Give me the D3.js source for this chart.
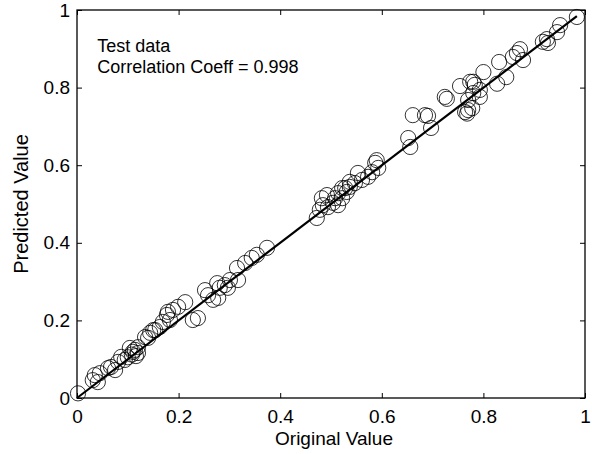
<!DOCTYPE html>
<html>
<head>
<meta charset="utf-8">
<script src="https://cdn.jsdelivr.net/npm/d3@7"></script>
<style>
  body { margin: 0; background: #fff; }
  text { font-family: "Liberation Sans", Arial, sans-serif; fill: #000; }
</style>
</head>
<body>
<div id="chart-container"></div>
<script>
// Original vs predicted values
const originalValues = [
    0.002, 0.031, 0.041, 0.035, 0.045, 0.061, 0.067, 0.075, 0.081, 0.087,
    0.094, 0.100, 0.104, 0.108, 0.110, 0.114, 0.116, 0.120, 0.120, 0.140,
    0.150, 0.134, 0.144, 0.154, 0.163, 0.169, 0.183, 0.177, 0.179, 0.189,
    0.199, 0.213, 0.228, 0.238, 0.252, 0.258, 0.268, 0.278, 0.276, 0.281,
    0.297, 0.291, 0.301, 0.317, 0.315, 0.331, 0.344, 0.354, 0.374,
    0.472, 0.478, 0.484, 0.494, 0.482, 0.492, 0.504, 0.508, 0.514, 0.522,
    0.514, 0.531, 0.522, 0.528, 0.537, 0.537, 0.547, 0.553, 0.561, 0.573,
    0.581, 0.593, 0.587, 0.590,
    0.656, 0.652, 0.697, 0.661, 0.685, 0.691, 0.724, 0.728, 0.764, 0.770,
    0.778, 0.768, 0.770, 0.754, 0.774, 0.783, 0.793, 0.780, 0.793, 0.780,
    0.800, 0.827, 0.845, 0.831, 0.858, 0.866, 0.872, 0.878, 0.917, 0.927,
    0.925, 0.945, 0.951, 0.984
];
const predictedValues = [
    0.012, 0.046, 0.041, 0.059, 0.064, 0.077, 0.080, 0.072, 0.093, 0.106,
    0.098, 0.105, 0.129, 0.112, 0.119, 0.124, 0.108, 0.116, 0.131, 0.155,
    0.175, 0.157, 0.168, 0.175, 0.183, 0.196, 0.201, 0.214, 0.222, 0.227,
    0.235, 0.247, 0.201, 0.206, 0.278, 0.265, 0.253, 0.258, 0.296, 0.284,
    0.284, 0.291, 0.304, 0.304, 0.335, 0.348, 0.361, 0.369, 0.387,
    0.464, 0.485, 0.497, 0.492, 0.515, 0.523, 0.503, 0.515, 0.497, 0.515,
    0.528, 0.531, 0.541, 0.541, 0.544, 0.557, 0.554, 0.580, 0.562, 0.570,
    0.582, 0.593, 0.606, 0.613,
    0.647, 0.670, 0.696, 0.729, 0.729, 0.727, 0.776, 0.771, 0.737, 0.742,
    0.747, 0.733, 0.768, 0.804, 0.815, 0.807, 0.776, 0.786, 0.794, 0.815,
    0.840, 0.810, 0.827, 0.866, 0.879, 0.889, 0.899, 0.871, 0.918, 0.915,
    0.925, 0.943, 0.961, 0.982
];
// fitted line end points
const fitX = [0, 0.984];
const fitY = [0, 0.984];

const tickValues = [0, 0.2, 0.4, 0.6, 0.8, 1];
const xLabel = "Original Value";
const yLabel = "Predicted Value";
const noteLines = ["Test data", "Correlation Coeff = 0.998"];

const width = 592;
const height = 454;
const margin = { top: 10, right: 7, bottom: 56, left: 77 };

const svg = d3.select("#chart-container").append("svg")
    .attr("width", width)
    .attr("height", height);

svg.append("rect")
    .attr("width", width)
    .attr("height", height)
    .attr("fill", "#fff");

const x = d3.scaleLinear().domain([0, 1]).range([margin.left, width - margin.right]);
const y = d3.scaleLinear().domain([0, 1]).range([height - margin.bottom, margin.top]);

const fmt = d => String(+d.toFixed(1));

// axes with inward ticks on all four sides
svg.append("g")
    .attr("transform", `translate(0,${y(0)})`)
    .call(d3.axisBottom(x).tickValues(tickValues).tickFormat(fmt).tickSizeInner(-5).tickSizeOuter(0).tickPadding(12))
    .call(g => g.select(".domain").remove())
    .call(g => g.selectAll("text").attr("font-size", 19).attr("font-family", "Liberation Sans, Arial, sans-serif"));

svg.append("g")
    .attr("transform", `translate(${x(0)},0)`)
    .call(d3.axisLeft(y).tickValues(tickValues).tickFormat(fmt).tickSizeInner(-5).tickSizeOuter(0).tickPadding(7))
    .call(g => g.select(".domain").remove())
    .call(g => g.selectAll("text").attr("font-size", 19).attr("font-family", "Liberation Sans, Arial, sans-serif"));

svg.append("g")
    .attr("transform", `translate(0,${y(1)})`)
    .call(d3.axisTop(x).tickValues(tickValues).tickFormat("").tickSizeInner(-5).tickSizeOuter(0))
    .call(g => g.select(".domain").remove());

svg.append("g")
    .attr("transform", `translate(${x(1)},0)`)
    .call(d3.axisRight(y).tickValues(tickValues).tickFormat("").tickSizeInner(-5).tickSizeOuter(0))
    .call(g => g.select(".domain").remove());

svg.selectAll(".tick line").attr("stroke", "#000").attr("stroke-width", 1);

// box
svg.append("rect")
    .attr("x", x(0))
    .attr("y", y(1))
    .attr("width", x(1) - x(0))
    .attr("height", y(0) - y(1))
    .attr("fill", "none")
    .attr("stroke", "#000")
    .attr("stroke-width", 1.3);

const points = originalValues.map((v, i) => ({ o: v, p: predictedValues[i] }));

svg.append("g")
    .selectAll("circle")
    .data(points)
    .enter().append("circle")
    .attr("cx", d => x(d.o))
    .attr("cy", d => y(d.p))
    .attr("r", 7.6)
    .attr("fill", "none")
    .attr("stroke", "#000")
    .attr("stroke-width", 0.8);

svg.append("path")
    .datum(fitX.map((v, i) => [v, fitY[i]]))
    .attr("fill", "none")
    .attr("stroke", "#000")
    .attr("stroke-width", 2.2)
    .attr("d", d3.line().x(d => x(d[0])).y(d => y(d[1])));

// annotation
svg.append("text")
    .attr("font-size", 18)
    .selectAll("tspan")
    .data(noteLines)
    .enter().append("tspan")
    .attr("x", x(0.04))
    .attr("y", (d, i) => 52 + i * 21)
    .text(d => d);

svg.append("text")
    .attr("x", 334)
    .attr("y", 445)
    .attr("text-anchor", "middle")
    .attr("font-size", 19)
    .text(xLabel);

svg.append("text")
    .attr("transform", `translate(28,${(y(0) + y(1)) / 2}) rotate(-90)`)
    .attr("text-anchor", "middle")
    .attr("font-size", 20)
    .text(yLabel);
</script>
</body>
</html>
